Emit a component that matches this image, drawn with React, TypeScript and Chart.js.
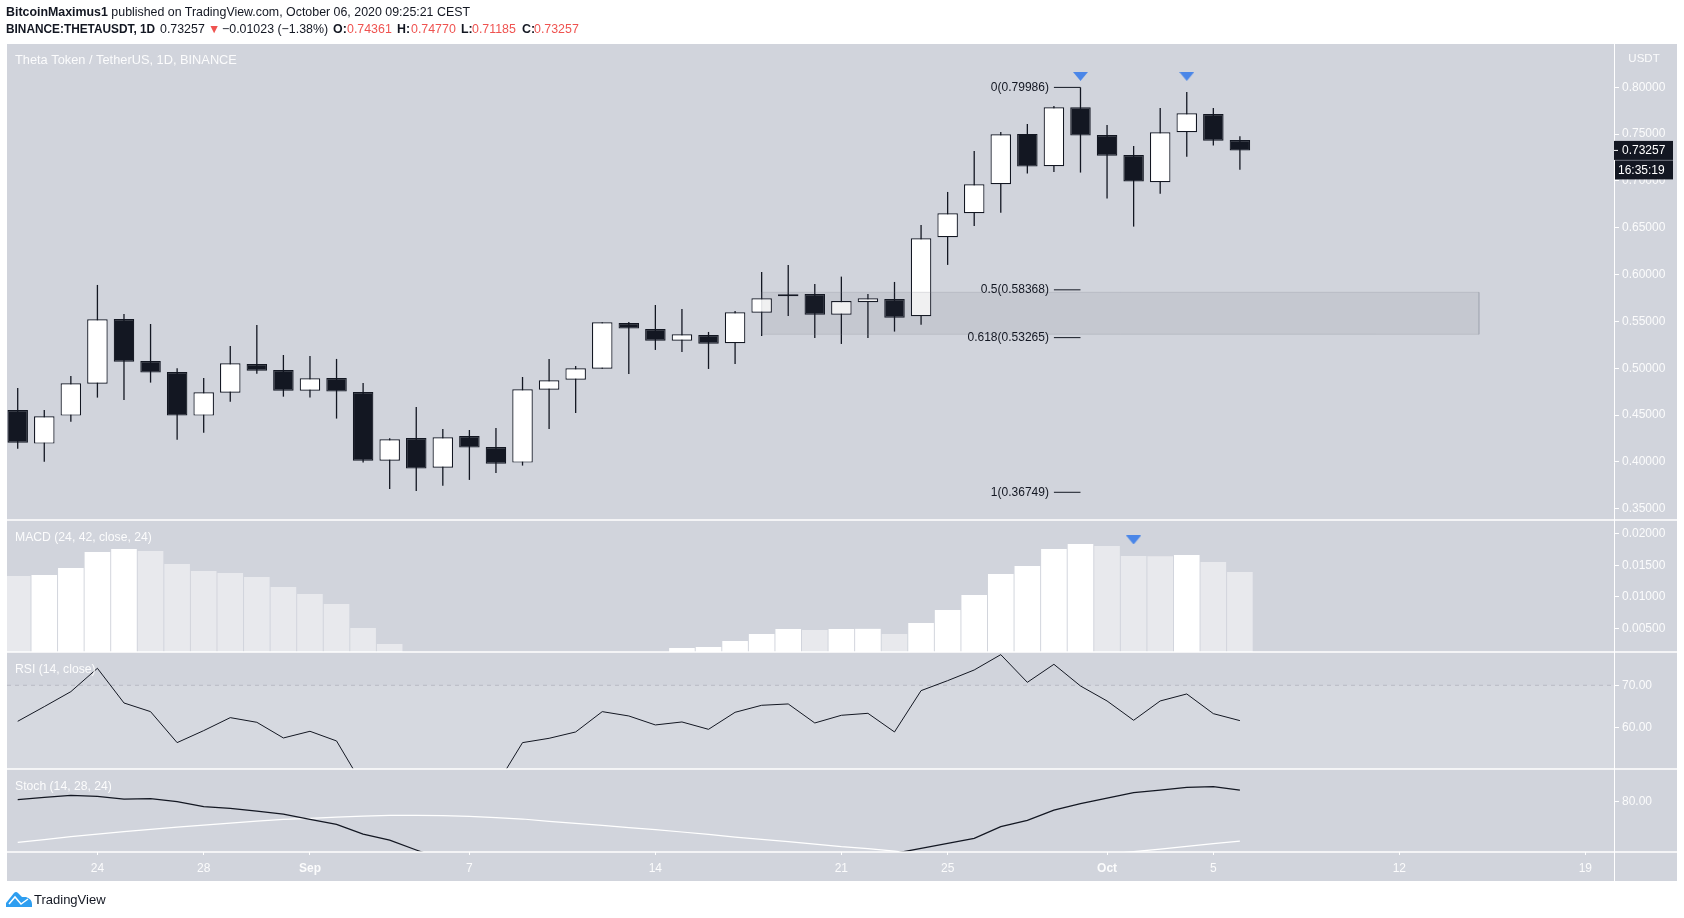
import React, { useEffect, useRef } from "react";
import { Chart, registerables } from "chart.js";

Chart.register(...registerables);

// daily candles, first one is Aug 21
const opens = [0.4554, 0.4195, 0.4494, 0.4835, 0.5526, 0.5077, 0.496, 0.4494, 0.4739, 0.5045, 0.4981, 0.476, 0.4896, 0.4746, 0.4013, 0.4255, 0.3938, 0.4276, 0.4159, 0.3992, 0.4771, 0.4878, 0.4995, 0.5483, 0.5419, 0.5294, 0.5355, 0.5266, 0.5593, 0.5768, 0.5793, 0.5572, 0.5704, 0.5739, 0.5554, 0.6398, 0.6654, 0.6964, 0.7502, 0.7156, 0.7786, 0.7491, 0.7277, 0.6985, 0.7519, 0.7715, 0.74361];
const highs = [0.4789, 0.4554, 0.4917, 0.5889, 0.5579, 0.5472, 0.4999, 0.4896, 0.5237, 0.5462, 0.5141, 0.5131, 0.5099, 0.4842, 0.4251, 0.4586, 0.4351, 0.434, 0.4362, 0.4906, 0.5099, 0.5024, 0.549, 0.5494, 0.5675, 0.5633, 0.5387, 0.5611, 0.6028, 0.6103, 0.59, 0.5978, 0.5793, 0.5921, 0.653, 0.6882, 0.732, 0.7523, 0.7608, 0.7801, 0.79986, 0.7598, 0.7373, 0.7779, 0.795, 0.7779, 0.7477];
const lows = [0.4141, 0.4002, 0.4429, 0.4686, 0.4661, 0.4846, 0.4237, 0.4312, 0.4643, 0.4942, 0.4696, 0.4686, 0.4462, 0.3992, 0.371, 0.3689, 0.3746, 0.3807, 0.3881, 0.396, 0.4351, 0.4522, 0.4995, 0.4938, 0.5195, 0.5173, 0.4992, 0.5045, 0.5344, 0.5558, 0.5323, 0.5259, 0.5323, 0.5391, 0.5465, 0.6103, 0.6519, 0.6661, 0.7078, 0.7096, 0.7089, 0.6811, 0.6512, 0.6864, 0.7259, 0.7377, 0.71185];
const closes = [0.4205, 0.4486, 0.4839, 0.5522, 0.507, 0.4953, 0.4494, 0.4743, 0.5052, 0.4974, 0.476, 0.4892, 0.475, 0.4013, 0.4241, 0.3928, 0.4262, 0.4152, 0.3981, 0.4775, 0.4871, 0.4999, 0.549, 0.5423, 0.5294, 0.5362, 0.5262, 0.5597, 0.5747, 0.5789, 0.5572, 0.5718, 0.5747, 0.554, 0.6387, 0.6654, 0.6964, 0.7498, 0.7153, 0.7786, 0.7484, 0.727, 0.6993, 0.7519, 0.7722, 0.743, 0.73257];

const macdHist = [0.01329, 0.01345, 0.01456, 0.0171, 0.01757, 0.01725, 0.01519, 0.01408, 0.01377, 0.01313, 0.01155, 0.01044, 0.00885, 0.00505, 0.00251, 0, 0, 0, 0, 0, 0, 0, 0, 0, 0, 0.00187, 0.00203, 0.00298, 0.00409, 0.00489, 0.00473, 0.00489, 0.00491, 0.00409, 0.00584, 0.0079, 0.01028, 0.01361, 0.01488, 0.01757, 0.01836, 0.01805, 0.01646, 0.01644, 0.01662, 0.01551, 0.01392];
const rsiValues = [61.43, 64.92, 68.49, 74.05, 65.79, 63.73, 56.35, 59.21, 62.3, 61.19, 57.46, 59.05, 56.75, 46.1, 41.5, 39.5, 43, 42, 46, 56.35, 57.38, 58.89, 63.73, 62.7, 60.56, 61.27, 59.52, 63.57, 65.24, 65.56, 61.03, 62.86, 63.33, 58.89, 68.73, 71.11, 73.65, 77.3, 70.71, 75, 69.84, 66.27, 61.67, 66.27, 67.94, 63.25, 61.59];
const stochK = [80.95, 82.06, 83.02, 82.54, 81.27, 81.43, 80, 77.62, 76.83, 75.56, 74.13, 71.59, 69.21, 64.6, 61.75, 57, 52.5, 50, 47, 46, 45, 44, 44, 43, 42, 43, 44, 45, 46, 47.5, 49, 51, 53, 55.4, 57.78, 60.16, 62.54, 68.1, 71.11, 76.03, 79.05, 81.75, 84.29, 85.56, 86.83, 87.14, 85.56];
const stochD = [60.63, 61.9, 63.33, 64.6, 65.71, 66.83, 67.94, 68.89, 69.84, 70.79, 71.59, 72.06, 72.7, 73.17, 73.49, 73.49, 73.33, 73.02, 72.38, 71.75, 70.63, 69.68, 68.73, 67.62, 66.67, 65.56, 64.44, 63.17, 62.06, 60.95, 59.84, 58.57, 57.62, 56.51, 54.9, 54, 53.3, 52.8, 52.5, 53, 53.9, 55.08, 56.19, 57.46, 58.73, 60, 61.27];

const priceTicks = [0.35, 0.4, 0.45, 0.5, 0.55, 0.6, 0.65, 0.7, 0.75, 0.8];
const macdTicks = [0.005, 0.01, 0.015, 0.02];
const rsiTicks = [60, 70];
const stochTicks = [80];
const dateTicks = [3, 7, 11, 17, 24, 31, 35, 41, 45, 52, 59];
const dateLabels = ["24", "28", "Sep", "7", "14", "21", "25", "Oct", "5", "12", "19"];
const boldDates = ["Sep", "Oct"];

const fibRatios = ["0", "0.5", "0.618", "1"];
const fibValues = [0.79986, 0.58368, 0.53265, 0.36749];
const fibSpan = [39, 40];

const zoneX = [28, 55, 55, 28, 28];
const zoneY = [0.5811, 0.5811, 0.5362, 0.5362, 0.5811];

const priceMarkerX = [40, 44];
const priceMarkerY = [0.8116, 0.8116];
const macdMarkerX = [42];
const macdMarkerY = [0.019];

const lastPrice = 0.73257;
const countdown = "16:35:19";

const X_MIN = -0.403;
const X_MAX = 60.08;
const RSI_MIN = 50.07;
const FONT = '"Liberation Sans", Arial, sans-serif';
const DARK = "#131722";
const PANEL = "#d1d4dc";
const RED = "#ef5350";
const WHITE_TEXT = "rgba(255,255,255,0.92)";

const asPoints = (xs: number[], ys: number[]) => ys.map((y, i) => ({ x: xs[i], y }));
const bySession = (ys: number[]) => ys.map((y, i) => ({ x: i, y }));

const overlays = {
  id: "overlays",
  beforeDraw(chart: any) {
    const { ctx } = chart;
    ctx.save();
    ctx.fillStyle = PANEL;
    ctx.fillRect(7, 44, 1670, 837);
    ctx.restore();
  },
  afterDraw(chart: any) {
    const { ctx, scales } = chart;
    const { x, y, macd, rsi, stoch } = scales;
    ctx.save();

    // pane separators
    ctx.strokeStyle = "#ffffff";
    ctx.lineWidth = 1.5;
    [y.bottom, macd.bottom, rsi.bottom, stoch.bottom].forEach((py: number) => {
      ctx.beginPath();
      ctx.moveTo(7, py);
      ctx.lineTo(1677, py);
      ctx.stroke();
    });
    ctx.lineWidth = 1;
    ctx.beginPath();
    ctx.moveTo(x.right + 0.5, 44);
    ctx.lineTo(x.right + 0.5, 881);
    ctx.stroke();

    ctx.textBaseline = "middle";
    ctx.font = `12px ${FONT}`;

    // fib labels
    ctx.fillStyle = DARK;
    ctx.textAlign = "right";
    fibValues.forEach((v, i) => {
      ctx.fillText(`${fibRatios[i]}(${v.toFixed(5)})`, x.getPixelForValue(fibSpan[0]) - 5, y.getPixelForValue(v));
    });

    // pane titles
    ctx.fillStyle = WHITE_TEXT;
    ctx.textAlign = "left";
    ctx.font = `12.8px ${FONT}`;
    ctx.fillText("Theta Token / TetherUS, 1D, BINANCE", 15, 60);
    ctx.font = `12.2px ${FONT}`;
    ctx.fillText("MACD (24, 42, close, 24)", 15, 538);
    ctx.fillText("RSI (14, close)", 15, 670);
    ctx.fillText("Stoch (14, 28, 24)", 15, 787);

    ctx.font = `11.5px ${FONT}`;
    ctx.textAlign = "center";
    ctx.fillText("USDT", 1644, 59);

    // last price and countdown tags
    const py = y.getPixelForValue(lastPrice);
    ctx.font = `12px ${FONT}`;
    ctx.fillStyle = DARK;
    ctx.fillRect(1614, py - 9.5, 59, 19);
    ctx.fillRect(1615, py + 10, 58, 19);
    ctx.fillStyle = "#ffffff";
    ctx.textAlign = "left";
    ctx.fillText(lastPrice.toFixed(5), 1622, py + 0.5);
    ctx.fillText(countdown, 1618, py + 20);
    ctx.fillRect(1614, py - 0.5, 4, 1);

    // tradingview mark in the footer
    ctx.fillStyle = "#2e9ef0";
    ctx.beginPath();
    ctx.moveTo(6, 907);
    ctx.lineTo(6, 903);
    ctx.lineTo(14, 893);
    ctx.quadraticCurveTo(16, 891, 18, 893);
    ctx.lineTo(22, 897);
    ctx.lineTo(26, 897);
    ctx.quadraticCurveTo(32, 899, 32, 904);
    ctx.lineTo(32, 907);
    ctx.closePath();
    ctx.fill();
    ctx.strokeStyle = "#ffffff";
    ctx.lineWidth = 1.5;
    ctx.beginPath();
    ctx.moveTo(9, 904);
    ctx.lineTo(15, 897);
    ctx.lineTo(21, 904);
    ctx.lineTo(28, 899);
    ctx.stroke();
    ctx.fillStyle = DARK;
    ctx.font = `13px ${FONT}`;
    ctx.fillText("TradingView", 34, 900);
    ctx.restore();
  },
};

const makeMarker = () => {
  const c = document.createElement("canvas");
  c.width = 15;
  c.height = 9;
  const g = c.getContext("2d");
  if (g) {
    g.fillStyle = "#4a86e8";
    g.beginPath();
    g.moveTo(0, 0);
    g.lineTo(15, 0);
    g.lineTo(7.5, 9);
    g.closePath();
    g.fill();
  }
  return c;
};

const paneAxis = (ticks: number[], weight: number, min: number, max: number, digits: number) => ({
  type: "linear",
  position: "right",
  stack: "panes",
  stackWeight: weight,
  min,
  max,
  border: { display: false },
  grid: { display: true, drawOnChartArea: false, drawTicks: true, tickLength: 5, color: "#ffffff" },
  ticks: {
    autoSkip: false,
    padding: 3,
    color: WHITE_TEXT,
    font: { family: FONT, size: 12 },
    callback: (v: number) => Number(v).toFixed(digits),
  },
  afterBuildTicks: (s: any) => {
    s.ticks = ticks.map((value) => ({ value }));
  },
  afterFit: (s: any) => {
    s.width = 63;
    s.paddingTop = 0;
    s.paddingBottom = 0;
  },
});

const App = () => {
  const canvasRef = useRef<HTMLCanvasElement>(null);

  useEffect(() => {
    if (!canvasRef.current) return;
    const marker = makeMarker();
    const isUp = (i: number) => closes[i] >= opens[i];
    const lineBase = { type: "scatter", showLine: true, pointRadius: 0, tension: 0 };

    const chart = new Chart(canvasRef.current, {
      type: "bar",
      data: {
        datasets: [
          {
            type: "bar",
            yAxisID: "y",
            order: 10,
            grouped: false,
            barThickness: 1.3,
            inflateAmount: 0,
            backgroundColor: DARK,
            data: highs.map((h, i) => ({ x: i, y: [lows[i], h] })),
          },
          {
            type: "bar",
            yAxisID: "y",
            order: 9,
            grouped: false,
            barThickness: 20.5,
            inflateAmount: 0,
            borderWidth: 1.2,
            borderSkipped: false,
            borderColor: DARK,
            backgroundColor: opens.map((_, i) => (isUp(i) ? "#ffffff" : DARK)),
            data: opens.map((o, i) => ({ x: i, y: [o, closes[i]] })),
          },
          ...fibValues.map((v) => ({
            ...lineBase,
            yAxisID: "y",
            order: 8,
            borderColor: DARK,
            borderWidth: 1,
            data: asPoints(fibSpan, [v, v]),
          })),
          {
            ...lineBase,
            yAxisID: "y",
            order: 7,
            fill: "shape",
            borderColor: "rgba(120,123,134,0.2)",
            borderWidth: 1,
            backgroundColor: "rgba(60,62,82,0.08)",
            data: asPoints(zoneX, zoneY),
          },
          {
            type: "scatter",
            yAxisID: "y",
            order: 1,
            pointStyle: marker,
            pointRadius: 8,
            data: asPoints(priceMarkerX, priceMarkerY),
          },
          {
            type: "bar",
            yAxisID: "macd",
            order: 5,
            grouped: false,
            barThickness: 25.6,
            inflateAmount: 0,
            backgroundColor: macdHist.map((v, i) => (i > 0 && v > macdHist[i - 1] ? "#ffffff" : "#e8e9ed")),
            data: bySession(macdHist),
          },
          {
            type: "scatter",
            yAxisID: "macd",
            order: 1,
            pointStyle: marker,
            pointRadius: 8,
            data: asPoints(macdMarkerX, macdMarkerY),
          },
          {
            ...lineBase,
            yAxisID: "rsi",
            order: 6,
            fill: { value: RSI_MIN },
            backgroundColor: "rgba(255,255,255,0.12)",
            borderColor: "rgba(120,123,134,0.3)",
            borderWidth: 1,
            borderDash: [4, 4],
            data: asPoints([X_MIN, X_MAX], [70, 70]),
          },
          {
            ...lineBase,
            yAxisID: "rsi",
            order: 4,
            borderColor: DARK,
            borderWidth: 1,
            data: bySession(rsiValues),
          },
          {
            ...lineBase,
            yAxisID: "stoch",
            order: 4,
            borderColor: "#ffffff",
            borderWidth: 1.2,
            data: bySession(stochD),
          },
          {
            ...lineBase,
            yAxisID: "stoch",
            order: 3,
            borderColor: DARK,
            borderWidth: 1.3,
            data: bySession(stochK),
          },
        ],
      } as any,
      options: {
        responsive: false,
        animation: false,
        devicePixelRatio: 1,
        // the marker points would otherwise push the chart area in
        layout: { autoPadding: false, padding: { left: 7, top: 44, right: 7, bottom: 37 } },
        plugins: { legend: { display: false }, tooltip: { enabled: false } },
        scales: {
          x: {
            type: "linear",
            position: "bottom",
            offset: false,
            min: X_MIN,
            max: X_MAX,
            border: { display: false },
            grid: { display: true, offset: false, drawOnChartArea: false, drawTicks: true, tickLength: 3, color: "#ffffff" },
            ticks: {
              autoSkip: false,
              maxRotation: 0,
              padding: 6,
              color: WHITE_TEXT,
              font: (c: any) => ({
                family: FONT,
                size: 12,
                weight: boldDates.includes(dateLabels[dateTicks.indexOf(c.tick?.value)]) ? "bold" : "normal",
              }),
              callback: (v: number) => dateLabels[dateTicks.indexOf(v)],
            },
            afterBuildTicks: (s: any) => {
              s.ticks = dateTicks.map((value) => ({ value }));
            },
            afterFit: (s: any) => {
              s.height = 29;
              s.paddingLeft = 0;
              s.paddingRight = 0;
            },
          },
          y: paneAxis(priceTicks, 476, 0.3379, 0.8462, 5),
          macd: paneAxis(macdTicks, 132, 0.00124, 0.02217, 5),
          rsi: paneAxis(rsiTicks, 117, RSI_MIN, 77.93, 2),
          stoch: paneAxis(stochTicks, 83, 56.05, 95.57, 2),
        },
      } as any,
      plugins: [overlays],
    });

    return () => {
      chart.destroy();
    };
  }, []);

  const head: React.CSSProperties = {
    position: "absolute",
    font: `12.4px ${FONT}`,
    color: DARK,
    whiteSpace: "pre",
    lineHeight: "16px",
  };
  const piece = (left: number, style: React.CSSProperties = {}): React.CSSProperties => ({ ...head, top: 21, left, ...style });
  const bold = { fontWeight: 700 };
  const red = { color: RED };

  return (
    <div style={{ position: "absolute", left: 0, top: 0, width: 1684, height: 918, background: "#fff", overflow: "hidden" }}>
      <canvas ref={canvasRef} width={1684} height={918} style={{ display: "block" }} />
      <div style={{ ...head, left: 6, top: 4 }}>
        <b>BitcoinMaximus1</b> published on TradingView.com, October 06, 2020 09:25:21 CEST
      </div>
      <div style={piece(6, { ...bold, fontSize: 11.85 })}>BINANCE:THETAUSDT, 1D</div>
      <div style={piece(160)}>0.73257</div>
      <div style={piece(208, red)}>▼</div>
      <div style={piece(222)}>−0.01023 (−1.38%)</div>
      <div style={piece(333, bold)}>O:</div>
      <div style={piece(347, red)}>0.74361</div>
      <div style={piece(397, bold)}>H:</div>
      <div style={piece(411, red)}>0.74770</div>
      <div style={piece(461, bold)}>L:</div>
      <div style={piece(472, red)}>0.71185</div>
      <div style={piece(522, bold)}>C:</div>
      <div style={piece(534, red)}>0.73257</div>
    </div>
  );
};

export default App;
